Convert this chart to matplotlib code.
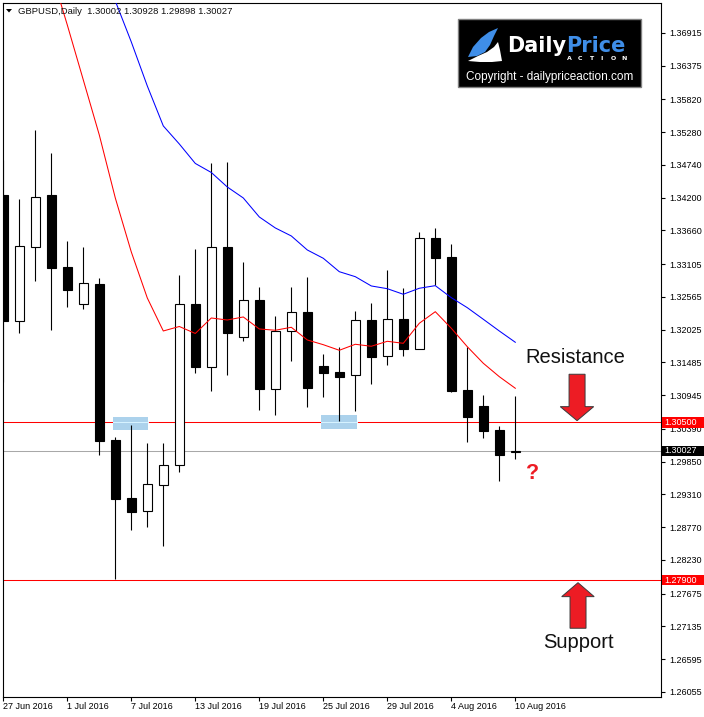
import numpy as np
import matplotlib
matplotlib.use("Agg")
import matplotlib.pyplot as plt
from matplotlib.patches import Rectangle, Polygon
from matplotlib import transforms

W, H = 704, 717
nan = np.nan

# GBPUSD daily, 27 Jun - 10 Aug 2016
dates = ["27 Jun 2016", "28 Jun 2016", "29 Jun 2016", "30 Jun 2016", "1 Jul 2016",
         "4 Jul 2016", "5 Jul 2016", "6 Jul 2016", "7 Jul 2016", "8 Jul 2016",
         "11 Jul 2016", "12 Jul 2016", "13 Jul 2016", "14 Jul 2016", "15 Jul 2016",
         "18 Jul 2016", "19 Jul 2016", "20 Jul 2016", "21 Jul 2016", "22 Jul 2016",
         "25 Jul 2016", "26 Jul 2016", "27 Jul 2016", "28 Jul 2016", "29 Jul 2016",
         "1 Aug 2016", "2 Aug 2016", "3 Aug 2016", "4 Aug 2016", "5 Aug 2016",
         "8 Aug 2016", "9 Aug 2016", "10 Aug 2016"]
opens = [1.34245, 1.32174, 1.33393, 1.34245, 1.33059, 1.32444, 1.32779, 1.30208, 1.29252,
         1.29033, 1.29471, 1.29791, 1.32444, 1.31416, 1.33388, 1.31913, 1.32515, 1.31053,
         1.31999, 1.32312, 1.31432, 1.31328, 1.31274, 1.32185, 1.31587, 1.32202, 1.31703,
         1.33537, 1.33224, 1.31032, 1.30768, 1.30373, 1.30002]
highs = [1.34822, 1.34175, 1.35317, 1.34933, 1.33487, 1.33388, 1.32878, 1.30257, 1.30455,
         1.30153, 1.30153, 1.32927, 1.33356, 1.34768, 1.34784, 1.33141, 1.32726, 1.32251,
         1.32729, 1.32894, 1.31625, 1.31740, 1.32334, 1.32461, 1.33009, 1.32708, 1.33636,
         1.33702, 1.33438, 1.31740, 1.30953, 1.30439, 1.30928]
lows = [1.31168, 1.31966, 1.32833, 1.32021, 1.32405, 1.32372, 1.29966, 1.27910, 1.28730,
        1.28779, 1.28466, 1.29685, 1.31317, 1.31020, 1.31279, 1.31844, 1.30702, 1.30620,
        1.31510, 1.30757, 1.30921, 1.30526, 1.30691, 1.31136, 1.31449, 1.31597, 1.31700,
        1.32762, 1.31004, 1.30180, 1.30246, 1.29537, 1.29898]
closes = [1.32174, 1.33400, 1.34208, 1.33047, 1.32685, 1.32790, 1.30196, 1.29240, 1.29026,
          1.29478, 1.29791, 1.32444, 1.31416, 1.33384, 1.31976, 1.32510, 1.31056, 1.32004,
          1.32312, 1.31070, 1.31317, 1.31251, 1.32181, 1.31581, 1.32202, 1.31712, 1.33532,
          1.33212, 1.31020, 1.30592, 1.30361, 1.29966, 1.30027]

# moving averages (red = fast, blue = slow)
ma_fast = [nan, nan, nan, 1.37920, 1.37047, 1.36141, 1.35234, 1.34196, 1.33306, 1.32548,
           1.32004, 1.32078, 1.31963, 1.32218, 1.32185, 1.32235, 1.32037, 1.32016, 1.32065,
           1.31856, 1.31778, 1.31686, 1.31785, 1.31752, 1.31834, 1.31801, 1.32131, 1.32322,
           1.32049, 1.31745, 1.31472, 1.31251, 1.31060]
ma_slow = [nan, nan, nan, nan, nan, nan, 1.38201, 1.37443, 1.36767, 1.36042, 1.35383,
           1.35086, 1.34765, 1.34616, 1.34377, 1.34196, 1.33883, 1.33702, 1.33570, 1.33339,
           1.33202, 1.32981, 1.32899, 1.32746, 1.32701, 1.32609, 1.32708, 1.32751, 1.32553,
           1.32388, 1.32197, 1.32004, 1.31818]

price_ticks = [1.36915, 1.36375, 1.35820, 1.35280, 1.34740, 1.34200, 1.33660, 1.33105,
               1.32565, 1.32025, 1.31485, 1.30945, 1.30390, 1.29850, 1.29310, 1.28770,
               1.28230, 1.27675, 1.27135, 1.26595, 1.26055]

resistance = 1.30500
support = 1.27900
bid = closes[-1]

plt.rcParams['font.family'] = ['Liberation Sans', 'DejaVu Sans']

fig = plt.figure(figsize=(W / 100, H / 100), dpi=100)
fig.patch.set_facecolor('white')
# pixel coords (from top-left) -> figure
px = transforms.Affine2D().scale(1 / W, -1 / H).translate(0, 1) + fig.transFigure

left, right, top, bottom = 2.5, 661.3, 2.7, 696.7
ax = fig.add_axes([left / W, 1 - bottom / H, (right - left) / W, (bottom - top) / H])
ax.set_xlim(-0.05, 41.125)
ax.set_ylim(1.25977, 1.37414)

x = np.arange(len(opens))

# level lines
ax.axhline(resistance, color='#ff0000', lw=0.75, zorder=2)
ax.axhline(support, color='#ff0000', lw=0.75, zorder=2)
ax.axhline(bid, color='#a8a8a8', lw=0.75, zorder=2)

# blue zones at previous lows
for x0, x1, y0, y1 in [(6.86, 9.04, 1.30364, 1.30587), (19.86, 22.11, 1.30381, 1.30612)]:
    ax.add_patch(Rectangle((x0, y0), x1 - x0, y1 - y0, facecolor='#acd2ec',
                           edgecolor='none', zorder=2.5))
    ax.plot([x0, x1], [resistance, resistance], color='#d6f2ff', lw=0.75, zorder=2.6)

# candles
bw = 0.6
ax.vlines(x, lows, highs, color='black', lw=0.8, zorder=3)
for i in x:
    o, c = opens[i], closes[i]
    up = c >= o
    ax.add_patch(Rectangle((i - bw / 2, min(o, c)), bw, max(abs(c - o), 0.00003),
                           facecolor='white' if up else 'black', edgecolor='black',
                           lw=0.8, zorder=4))

ax.plot(x, ma_fast, color='#ff0000', lw=0.75, zorder=5)
ax.plot(x, ma_slow, color='#0000ff', lw=0.75, zorder=5)

# annotations
red = '#ed1c24'
down = [(35.36, resistance + 0.00791), (36.36, resistance + 0.00791),
        (36.36, resistance + 0.00257), (36.9, resistance + 0.00257),
        (35.86, resistance + 0.00026), (34.81, resistance + 0.00257),
        (35.36, resistance + 0.00257)]
up = [(35.42, support - 0.00795), (36.42, support - 0.00795),
      (36.42, support - 0.00274), (36.93, support - 0.00274),
      (35.92, support - 0.00044), (34.9, support - 0.00274),
      (35.42, support - 0.00274)]
for pts in (down, up):
    ax.add_patch(Polygon(pts, closed=True, facecolor=red, edgecolor='#3a3a3a',
                         lw=0.7, zorder=6))
ax.text(35.73, 1.31482, "Resistance", ha='center', va='baseline', fontsize=14.5,
        color='#111111', zorder=6)
ax.text(35.96, 1.26780, "Support", ha='center', va='baseline', fontsize=14.5,
        color='#111111', zorder=6)
ax.text(33.07, 1.29560, "?", ha='center', va='baseline', fontsize=15.5,
        fontweight='bold', color=red, zorder=6)

# axes styling
for s in ax.spines.values():
    s.set_linewidth(0.8)
    s.set_color('black')
ax.yaxis.tick_right()
ax.set_yticks(price_ticks)
ax.set_yticklabels([f"{p:.5f}" for p in price_ticks])
ax.tick_params(axis='y', length=3, width=0.8, pad=2.5, labelsize=6.5, colors='black')
tick_idx = list(range(0, len(dates), 4))
ax.set_xticks(tick_idx)
ax.set_xticklabels([dates[i] for i in tick_idx])
ax.tick_params(axis='x', length=3, width=0.8, pad=1.0, labelsize=6.5, colors='black')
for lab in ax.get_xticklabels():
    lab.set_horizontalalignment('left')

# price boxes on the right scale
box = transforms.blended_transform_factory(px, ax.transData)
dh = 0.00088
for val, col in [(resistance, '#ff0000'), (bid, '#000000'), (support, '#ff0000')]:
    fig.add_artist(Rectangle((662, val - dh), 42, 2 * dh, facecolor=col,
                             edgecolor='none', transform=box, zorder=5))
    fig.text(664, val, f"{val:.5f}", transform=box, color='white', fontsize=6.5,
             va='center', ha='left', zorder=6)

# chart title
fig.add_artist(Polygon([(6, 9), (12, 9), (9, 12.5)], closed=True, facecolor='black',
                       edgecolor='none', transform=px))
fig.text(18, 11, f"GBPUSD,Daily  {opens[-1]:.5f} {highs[-1]:.5f} {lows[-1]:.5f} {closes[-1]:.5f}",
         transform=px, fontsize=6.8, va='center', ha='left', color='#111111', zorder=6)

# logo
fig.add_artist(Rectangle((458, 19), 183, 68, facecolor='black', edgecolor='#808080',
                         lw=1.0, transform=px, zorder=7))
fig.add_artist(Polygon([(468, 57), (473, 47), (481, 38), (489, 32), (498, 28), (494, 36),
                        (490, 45), (485, 52), (477, 56)], closed=True,
                       facecolor='#3f8ee8', edgecolor='none', transform=px, zorder=8))
fig.add_artist(Polygon([(468, 61), (478, 56), (487, 52), (494, 47), (498, 42), (500, 50),
                        (502, 61), (492, 62), (480, 62)], closed=True,
                       facecolor='white', edgecolor='none', transform=px, zorder=8))
fig.text(507, 52.3, "Daily", transform=px, fontsize=15, fontweight='bold',
         family='DejaVu Sans', color='white', va='baseline', ha='left', zorder=9)
fig.text(626, 52.3, "Price", transform=px, fontsize=15, fontweight='bold',
         family='DejaVu Sans', color='#3f8ee8', va='baseline', ha='right', zorder=9)
for k, ch in enumerate("ACTION"):
    fig.text(569 + k * 11, 60, ch, transform=px, fontsize=4.5, fontweight='bold',
             family='DejaVu Sans', color='white', va='baseline', ha='center', zorder=9)
fig.text(549.5, 77, "Copyright - dailypriceaction.com", transform=px, fontsize=8.5,
         color='white', va='center', ha='center', zorder=9)

fig.savefig("out.png", dpi=100)
